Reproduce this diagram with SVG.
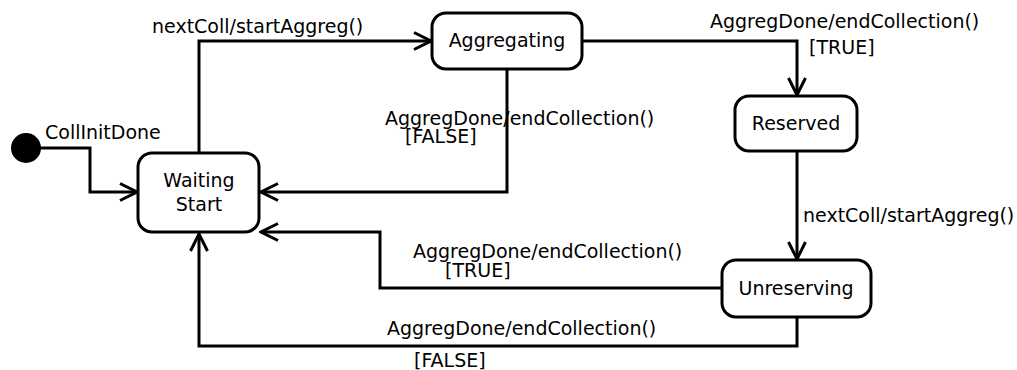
<svg xmlns="http://www.w3.org/2000/svg" width="1017" height="370" viewBox="0 0 1017 370">
<style>
.st{fill:#fff;stroke:#000;stroke-width:3}
.t{font-family:"DejaVu Sans",sans-serif;font-size:19px;fill:#000}
.c{text-anchor:middle}
.e{fill:none;stroke:#000;stroke-width:3;stroke-linejoin:miter}
</style>
<defs>
<marker id="ar" markerUnits="userSpaceOnUse" viewBox="-20 -11 22 22" markerWidth="22" markerHeight="22" refX="0" refY="0" orient="auto">
<path d="M-17,-8.5 L0,0 L-17,8.5" fill="none" stroke="#000" stroke-width="3"/>
</marker>
</defs>
<rect width="1017" height="370" fill="#fff"/>
<g id="connectors">
<path class="e" d="M40,148 H90 V192 H137" marker-end="url(#ar)"/>
<path class="e" d="M199,153 V41 H431" marker-end="url(#ar)"/>
<path class="e" d="M507,69 V192 H261" marker-end="url(#ar)"/>
<path class="e" d="M582,41 H797 V95" marker-end="url(#ar)"/>
<path class="e" d="M797,151 V259" marker-end="url(#ar)"/>
<path class="e" d="M722,288 H380 V232 H261" marker-end="url(#ar)"/>
<path class="e" d="M797,317 V346 H199 V234" marker-end="url(#ar)"/>
<text class="t" x="45" y="139">CollInitDone</text>
<text class="t" x="152" y="33">nextColl/startAggreg()</text>
<text class="t" x="385" y="125">AggregDone/endCollection()</text>
<text class="t" x="405" y="143">[FALSE]</text>
<text class="t" x="710" y="28">AggregDone/endCollection()</text>
<text class="t" x="809" y="54">[TRUE]</text>
<text class="t" x="803" y="222">nextColl/startAggreg()</text>
<text class="t" x="413" y="258">AggregDone/endCollection()</text>
<text class="t" x="445" y="277">[TRUE]</text>
<text class="t" x="387" y="335">AggregDone/endCollection()</text>
<text class="t" x="414" y="367">[FALSE]</text>
</g>
<g id="init"><circle cx="26" cy="148" r="15" fill="#000"/></g>
<g id="waiting"><rect class="st" x="138" y="153" width="121" height="79" rx="14"/><text class="t c" x="199" y="187">Waiting</text><text class="t c" x="199" y="211">Start</text></g>
<g id="aggregating"><rect class="st" x="432" y="13" width="150" height="56" rx="14"/><text class="t c" x="507" y="47">Aggregating</text></g>
<g id="reserved"><rect class="st" x="735" y="96" width="122" height="55" rx="14"/><text class="t c" x="796" y="130">Reserved</text></g>
<g id="unreserving"><rect class="st" x="722" y="260" width="149" height="57" rx="14"/><text class="t c" x="796" y="295">Unreserving</text></g>
</svg>
